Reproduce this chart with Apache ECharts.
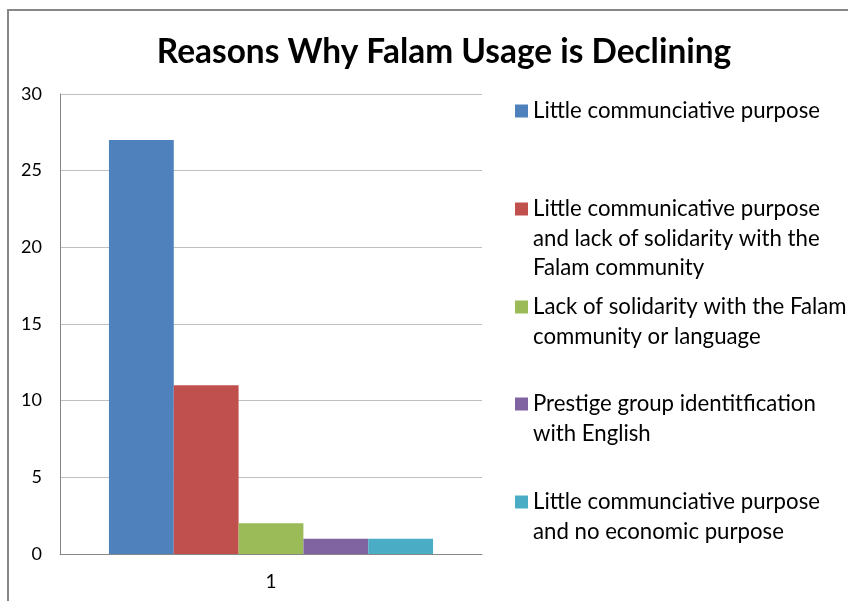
<!DOCTYPE html>
<html>
<head>
<meta charset="utf-8">
<script src="https://cdn.jsdelivr.net/npm/echarts@6/dist/echarts.min.js"></script>
<style>html,body{margin:0;padding:0;background:#fff;}#c{width:848px;height:601px;}</style>
</head>
<body>
<div id="c"></div>
<script>
const categories = ['1'];
const seriesNames = [
  'Little communciative purpose',
  'Little communicative purpose and lack of solidarity with the Falam community',
  'Lack of solidarity with the Falam community or language',
  'Prestige group identitfication with English',
  'Little communciative purpose and no economic purpose'
];
const legendLabels = [
  'Little communciative purpose',
  'Little communicative purpose\nand lack of solidarity with the\nFalam community',
  'Lack of solidarity with the Falam\ncommunity or language',
  'Prestige group identitfication\nwith English',
  'Little communciative purpose\nand no economic purpose'
];
const values = [[27], [11], [2], [1], [1]];
const colors = ['#4F81BD', '#C0504D', '#9BBB59', '#8064A2', '#4BACC6'];
const yTicks = { min: 0, max: 30, interval: 5 };
const legendFirstLineY = [111, 209, 307, 404, 502];

const FONT = 'Lato';
const LH = 29.5;
const chart = echarts.init(document.getElementById('c'), null, { renderer: 'canvas' });

const legends = seriesNames.map((name, i) => {
  const n = legendLabels[i].split('\n').length;
  const txt = ' \n'.repeat(n - 1) + legendLabels[i];
  return {
    data: [name],
    orient: 'vertical',
    left: 515,
    top: legendFirstLineY[i] - (2 * n - 1) * LH / 2,
    itemWidth: 13,
    itemHeight: 13,
    itemGap: 0,
    icon: 'rect',
    padding: 0,
    selectedMode: false,
    formatter: () => txt,
    textStyle: {
      fontFamily: FONT,
      fontSize: 22.2,
      color: '#000',
      lineHeight: LH
    }
  };
});

chart.setOption({
  animation: false,
  backgroundColor: '#fff',
  title: {
    text: 'Reasons Why Falam Usage is Declining',
    left: 439,
    textAlign: 'center',
    top: 31,
    textStyle: { fontFamily: FONT, fontSize: 33.4, fontWeight: 'bold', color: '#000' }
  },
  graphic: [{
    type: 'rect',
    shape: { x: 8, y: 10, width: 900, height: 700 },
    style: { fill: 'none', stroke: '#878787', lineWidth: 2 },
    silent: true
  }],
  legend: legends,
  grid: { left: 60, right: 366, top: 94, bottom: 47 },
  xAxis: {
    type: 'category',
    data: categories,
    axisLine: { lineStyle: { color: '#868686', width: 1 } },
    axisTick: { show: false },
    axisLabel: { fontFamily: FONT, fontSize: 19, color: '#000', margin: 18 }
  },
  yAxis: {
    type: 'value',
    min: yTicks.min,
    max: yTicks.max,
    interval: yTicks.interval,
    axisLine: { show: true, lineStyle: { color: '#868686', width: 1 } },
    axisTick: { show: false },
    splitLine: { lineStyle: { color: '#BFBFBF', width: 1 } },
    axisLabel: { fontFamily: FONT, fontSize: 18, color: '#000', margin: 18 }
  },
  series: seriesNames.map((name, i) => ({
    name: name,
    type: 'bar',
    data: values[i],
    itemStyle: { color: colors[i] },
    barGap: '0%',
    barCategoryGap: '23.2%'
  }))
});
</script>
</body>
</html>
